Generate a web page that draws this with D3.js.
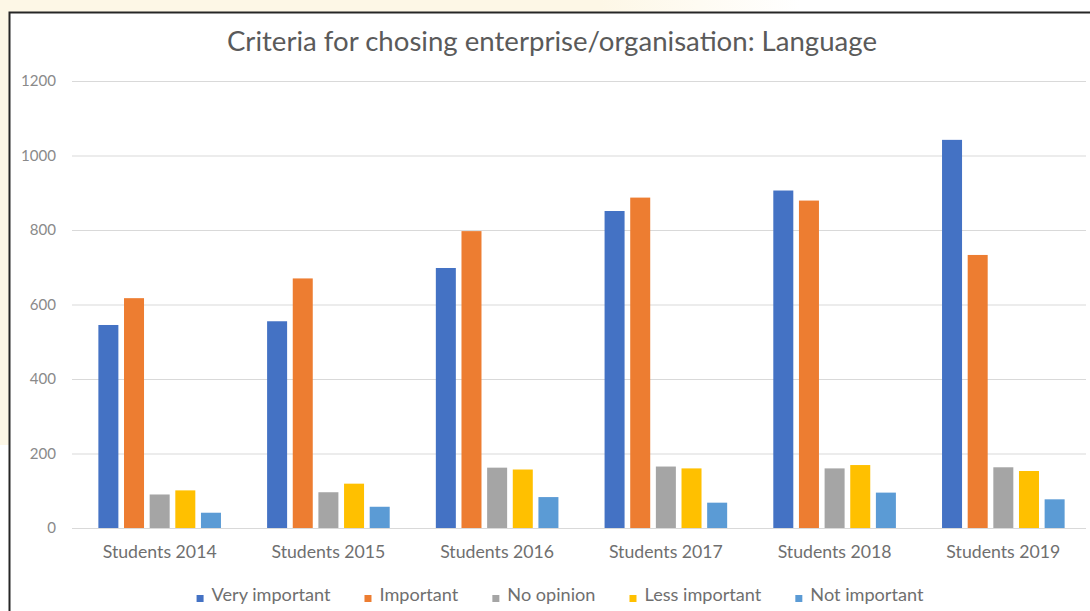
<!DOCTYPE html>
<html>
<head>
<meta charset="utf-8">
<script src="https://cdn.jsdelivr.net/npm/d3@7"></script>
<style>
  html, body { margin: 0; padding: 0; background: #ffffff; }
  svg { display: block; }
  text { font-family: Lato, "Open Sans", "Liberation Sans", sans-serif; }
</style>
</head>
<body>
<svg id="chart" width="1090" height="611"></svg>
<script>
const title = "Criteria for chosing enterprise/organisation: Language";
const categories = ["Students 2014", "Students 2015", "Students 2016", "Students 2017", "Students 2018", "Students 2019"];
const seriesNames = ["Very important", "Important", "No opinion", "Less important", "Not important"];
const veryImportant = [545, 555, 698, 851, 906, 1042];
const important     = [617, 670, 797, 887, 879, 733];
const noOpinion     = [90, 96, 162, 165, 160, 163];
const lessImportant = [101, 119, 157, 160, 169, 153];
const notImportant  = [41, 57, 83, 68, 95, 77];
const yTicks = [0, 200, 400, 600, 800, 1000, 1200];
const colors = ["#4472C4", "#ED7D31", "#A5A5A5", "#FFC000", "#5B9BD5"];

const seriesValues = [veryImportant, important, noOpinion, lessImportant, notImportant];
const data = categories.map((c, i) => ({
  category: c,
  values: seriesNames.map((s, j) => ({ series: s, value: seriesValues[j][i] }))
}));

const svg = d3.select("#chart");
const W = 1090, H = 611;

// background frame
svg.append("rect").attr("x", 0).attr("y", 0).attr("width", W).attr("height", H).attr("fill", "#ffffff");
const grad = svg.append("defs").append("linearGradient").attr("id", "cream").attr("x1", 0).attr("x2", 1).attr("y1", 0).attr("y2", 0);
grad.append("stop").attr("offset", "0%").attr("stop-color", "#fdf7e6");
grad.append("stop").attr("offset", "75%").attr("stop-color", "#fdf7e6");
grad.append("stop").attr("offset", "100%").attr("stop-color", "#ffffff");
svg.append("rect").attr("x", 0).attr("y", 0).attr("width", 800).attr("height", 12).attr("fill", "url(#cream)");
svg.append("rect").attr("x", 0).attr("y", 0).attr("width", 9).attr("height", 445).attr("fill", "#fdf7e6");
svg.append("path").attr("d", "M9.5,611 L9.5,12.5 L1090,12.5").attr("fill", "none").attr("stroke", "#262626").attr("stroke-width", 2);

function fitSize(sel, targetWidth, baseSize) {
  sel.style("font-size", baseSize + "px");
  const w = sel.node().getComputedTextLength();
  const s = baseSize * targetWidth / w;
  sel.style("font-size", s.toFixed(2) + "px");
  return s;
}

// scales
const y = d3.scaleLinear().domain([0, 1200]).range([528, 81]);
const x0 = d3.scaleBand().domain(categories).range([75.3, 1087.7]).paddingInner(0.24).paddingOuter(0.12);
const x1 = d3.scaleBand().domain(seriesNames).range([0, x0.bandwidth()]).paddingInner(0.22).paddingOuter(0.11);

// gridlines
const grid = svg.append("g").attr("transform", "translate(0,0)")
  .call(d3.axisLeft(y).tickValues(yTicks).tickSize(-(1086 - 72)).tickFormat(""))
  .attr("transform", "translate(72,0)");
grid.select(".domain").remove();
grid.selectAll(".tick line").attr("stroke", "#d9d9d9").attr("stroke-width", 1);

// y tick labels
const yAxis = svg.append("g").attr("transform", "translate(56,0)")
  .call(d3.axisLeft(y).tickValues(yTicks).tickSize(0).tickPadding(0).tickFormat(d3.format("d")));
yAxis.select(".domain").remove();
yAxis.selectAll("text").attr("fill", "#8a8a8a").style("font-family", "Lato, sans-serif");
const tickSize = fitSize(yAxis.selectAll("text").filter(d => d === 1000), 35, 12);
yAxis.selectAll("text").style("font-size", tickSize + "px");

// bars
const groups = svg.append("g").selectAll("g").data(data).join("g")
  .attr("transform", d => `translate(${x0(d.category)},0)`);
groups.selectAll("rect").data(d => d.values).join("rect")
  .attr("x", d => x1(d.series))
  .attr("y", d => y(d.value))
  .attr("width", x1.bandwidth())
  .attr("height", d => y(0) - y(d.value))
  .attr("fill", (d, i) => colors[i]);

// x axis
const xAxis = svg.append("g").attr("transform", "translate(0,528)")
  .call(d3.axisBottom(x0).tickSize(0).tickPadding(17));
xAxis.select(".domain").attr("stroke", "#d9d9d9").attr("d", "M72,0.5H1086");
xAxis.selectAll("text").attr("fill", "#6f6f6f").style("font-family", "Lato, sans-serif");
const catSize = fitSize(xAxis.selectAll("text").filter((d, i) => i === 0), 114, 13);
xAxis.selectAll("text").style("font-size", catSize + "px");

// title
const t = svg.append("text").attr("x", 552).attr("y", 51).attr("text-anchor", "middle")
  .attr("fill", "#5a5a5a").text(title);
fitSize(t, 650, 22);

// legend
const legend = svg.append("g");
const items = legend.selectAll("g").data(seriesNames).join("g");
items.append("rect").attr("width", 7).attr("height", 7).attr("y", -6).attr("fill", (d, i) => colors[i]);
const ltexts = items.append("text").attr("x", 15).attr("y", 0).attr("fill", "#6f6f6f").text(d => d);
const legSize = fitSize(ltexts.filter((d, i) => i === 0), 119, 13);
ltexts.style("font-size", legSize + "px");
const gap = 34;
let cx = 0;
const offs = [];
ltexts.each(function () { offs.push(cx); cx += 15 + this.getComputedTextLength() + gap; });
const totalW = cx - gap;
const startX = 560 - totalW / 2;
items.attr("transform", (d, i) => `translate(${startX + offs[i]},601)`);
</script>
</body>
</html>
